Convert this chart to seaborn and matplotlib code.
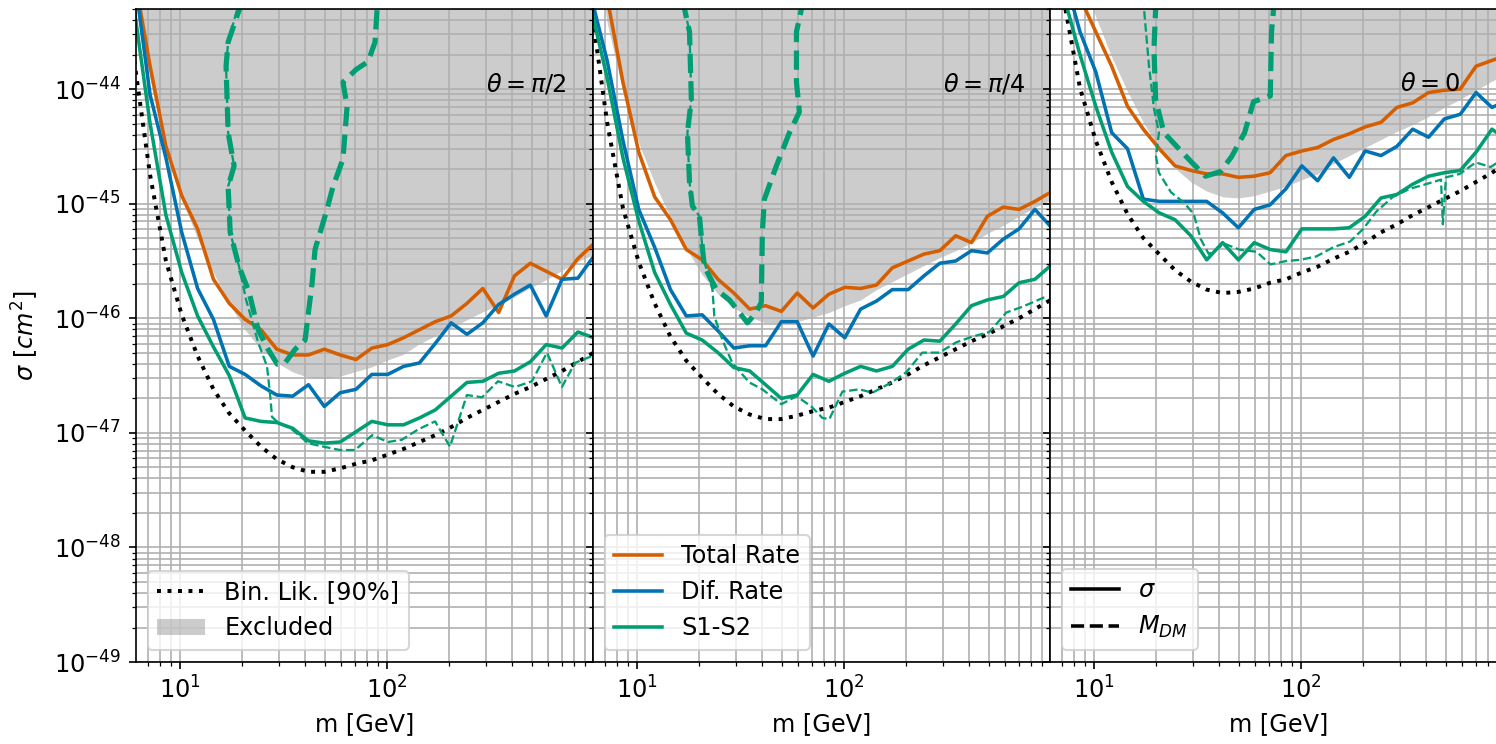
import numpy as np
import matplotlib
matplotlib.use("Agg")
import matplotlib.pyplot as plt
import seaborn as sns
from matplotlib.lines import Line2D
from matplotlib.patches import Patch
from matplotlib.ticker import FixedLocator, LogLocator, NullFormatter

plt.rcParams['font.size'] = 11.5

# ---------------------------------------------------------------------------
# Dark-matter mass grid [GeV]
# ---------------------------------------------------------------------------
mass = [6.0, 7.16, 8.54, 10.18, 12.15, 14.49, 17.28, 20.61, 24.59, 29.33,
        34.98, 41.73, 49.77, 59.37, 70.82, 84.47, 100.8, 120.2, 143.4, 171.0,
        204.0, 243.3, 290.2, 346.2, 412.9, 492.5, 587.5, 700.8, 835.9, 997.0]

# All cross sections below are log10(sigma / cm^2)

# --- theta = pi/2 ----------------------------------------------------------
excl_pi2 = [-43.0, -43.9, -44.5, -44.95, -45.3, -45.6, -45.87, -46.1, -46.27, -46.39,
            -46.47, -46.52, -46.53, -46.51, -46.47, -46.43, -46.37, -46.32, -46.23, -46.16,
            -46.09, -46.02, -45.95, -45.89, -45.82, -45.74, -45.67, -45.59, -45.51, -45.45]
binlik_pi2 = [-43.75, -44.75, -45.5, -45.97, -46.33, -46.62, -46.83, -46.98, -47.12, -47.23,
              -47.30, -47.34, -47.34, -47.31, -47.27, -47.24, -47.19, -47.14, -47.08, -47.02,
              -46.95, -46.87, -46.80, -46.73, -46.66, -46.60, -46.53, -46.46, -46.38, -46.30]
total_pi2 = [-43.0, -43.8, -44.5, -44.93, -45.22, -45.66, -45.87, -46.01, -46.10, -46.27,
             -46.32, -46.32, -46.27, -46.32, -46.36, -46.26, -46.23, -46.17, -46.10, -46.03,
             -45.98, -45.87, -45.74, -45.95, -45.63, -45.52, -45.59, -45.66, -45.48, -45.35]
dif_pi2 = [-43.0, -44.05, -44.6, -45.25, -45.74, -46.01, -46.42, -46.49, -46.59, -46.67,
           -46.68, -46.58, -46.77, -46.65, -46.62, -46.49, -46.49, -46.42, -46.39, -46.22,
           -46.04, -46.14, -46.04, -45.88, -45.79, -45.71, -45.98, -45.66, -45.65, -45.46]
s1s2_pi2 = [-43.3, -44.3, -45.1, -45.6, -45.98, -46.25, -46.5, -46.87, -46.90, -46.91,
            -46.96, -47.07, -47.09, -47.08, -46.99, -46.90, -46.93, -46.93, -46.87, -46.80,
            -46.68, -46.56, -46.55, -46.48, -46.46, -46.38, -46.23, -46.26, -46.12, -46.17]
mdm_wide_pi2_m = [1.290, 1.287, 1.232, 1.222, 1.232, 1.261, 1.232, 1.242, 1.285, 1.333,
                  1.377, 1.425, 1.469, 1.507, 1.556, 1.604, 1.618, 1.638, 1.652, 1.705,
                  1.739, 1.787, 1.807, 1.787, 1.850, 1.908, 1.942, 1.952, 1.952]
mdm_wide_pi2_s = [-43.0, -43.30, -43.59, -43.80, -44.38, -44.67, -44.85, -45.25, -45.55, -45.77,
                  -46.10, -46.27, -46.40, -46.39, -46.27, -46.19, -45.98, -45.69, -45.40, -45.08,
                  -44.85, -44.61, -44.15, -43.94, -43.83, -43.76, -43.59, -43.30, -43.0]
mdm_fine_pi2_m = [1.290, 1.232, 1.222, 1.232, 1.261, 1.232, 1.242, 1.285, 1.319, 1.377,
                  1.420, 1.435, 1.444, 1.473, 1.541, 1.618, 1.691, 1.773, 1.845, 1.928,
                  2.005, 2.072, 2.150, 2.232, 2.304, 2.386, 2.459, 2.536, 2.618, 2.700,
                  2.773, 2.845, 2.908, 2.990]
mdm_fine_pi2_s = [-43.21, -43.59, -43.80, -44.38, -44.67, -44.85, -45.25, -45.55, -45.84, -46.21,
                  -46.42, -46.67, -46.86, -46.91, -46.97, -47.09, -47.12, -47.15, -47.15, -47.02,
                  -47.08, -47.06, -46.97, -46.90, -47.12, -46.67, -46.69, -46.55, -46.60, -46.55,
                  -46.30, -46.60, -46.39, -46.33]

# --- theta = pi/4 ----------------------------------------------------------
excl_pi4 = [-42.52, -43.42, -44.02, -44.47, -44.82, -45.12, -45.39, -45.62, -45.79, -45.91,
            -45.99, -46.04, -46.05, -46.03, -45.99, -45.95, -45.89, -45.84, -45.75, -45.68,
            -45.61, -45.54, -45.47, -45.41, -45.34, -45.26, -45.19, -45.11, -45.03, -44.97]
binlik_pi4 = [-43.29, -44.29, -45.04, -45.51, -45.87, -46.16, -46.37, -46.52, -46.66, -46.77,
              -46.84, -46.88, -46.88, -46.85, -46.81, -46.78, -46.73, -46.68, -46.62, -46.56,
              -46.49, -46.41, -46.34, -46.27, -46.20, -46.14, -46.07, -46.00, -45.92, -45.84]
total_pi4 = [-42.5, -43.2, -43.94, -44.55, -44.94, -45.14, -45.40, -45.49, -45.66, -45.78,
             -45.92, -45.89, -45.94, -45.78, -45.91, -45.79, -45.73, -45.74, -45.71, -45.56,
             -45.50, -45.44, -45.41, -45.28, -45.34, -45.11, -45.03, -45.05, -44.98, -44.90]
dif_pi4 = [-43.2, -43.75, -44.45, -45.05, -45.38, -45.75, -45.98, -45.97, -46.11, -46.26,
           -46.24, -46.24, -46.03, -46.03, -46.33, -46.05, -46.17, -45.92, -45.85, -45.75,
           -45.75, -45.63, -45.52, -45.50, -45.41, -45.43, -45.31, -45.22, -45.05, -45.20]
s1s2_pi4 = [-43.3, -43.9, -44.6, -45.15, -45.6, -45.88, -46.13, -46.19, -46.30, -46.43,
            -46.46, -46.58, -46.70, -46.67, -46.49, -46.55, -46.48, -46.42, -46.46, -46.42,
            -46.27, -46.19, -46.20, -46.05, -45.89, -45.84, -45.81, -45.69, -45.66, -45.54]
mdm_wide_pi4_m = [1.229, 1.229, 1.253, 1.262, 1.243, 1.253, 1.267, 1.301, 1.316, 1.325,
                  1.383, 1.446, 1.494, 1.533, 1.576, 1.600, 1.605, 1.615, 1.673, 1.736,
                  1.784, 1.770, 1.770, 1.794, 1.794]
mdm_wide_pi4_s = [-43.1, -43.30, -43.50, -44.09, -44.38, -44.81, -45.02, -45.11, -45.40, -45.55,
                  -45.75, -45.84, -45.95, -46.04, -45.95, -45.86, -45.25, -44.96, -44.67, -44.38,
                  -44.20, -43.94, -43.50, -43.30, -43.1]
mdm_fine_pi4_m = [1.229, 1.253, 1.262, 1.243, 1.253, 1.267, 1.301, 1.316, 1.325, 1.364,
                  1.373, 1.412, 1.460, 1.542, 1.605, 1.697, 1.770, 1.842, 1.895, 1.929,
                  1.992, 2.074, 2.137, 2.229, 2.301, 2.378, 2.460, 2.542, 2.620, 2.702,
                  2.784, 2.861, 2.977]
mdm_fine_pi4_s = [-43.30, -43.50, -44.09, -44.38, -44.81, -45.02, -45.11, -45.40, -45.51, -45.75,
                  -45.98, -46.19, -46.39, -46.56, -46.62, -46.75, -46.68, -46.77, -46.87, -46.88,
                  -46.64, -46.62, -46.65, -46.56, -46.47, -46.30, -46.30, -46.21, -46.16, -46.12,
                  -45.95, -45.90, -45.81]

# --- theta = 0 -------------------------------------------------------------
excl_0 = [-41.42, -42.32, -42.92, -43.37, -43.72, -44.02, -44.29, -44.52, -44.69, -44.81,
          -44.89, -44.94, -44.95, -44.93, -44.89, -44.85, -44.79, -44.74, -44.65, -44.58,
          -44.51, -44.44, -44.37, -44.31, -44.24, -44.16, -44.09, -44.01, -43.93, -43.87]
binlik_0 = [-42.25, -43.24, -43.99, -44.45, -44.81, -45.09, -45.30, -45.44, -45.58, -45.68,
            -45.75, -45.78, -45.77, -45.74, -45.69, -45.66, -45.60, -45.55, -45.48, -45.42,
            -45.34, -45.25, -45.18, -45.10, -45.03, -44.96, -44.89, -44.81, -44.73, -44.64]
total_0 = [-42.3, -42.8, -43.2, -43.5, -43.8, -44.15, -44.35, -44.52, -44.67, -44.71,
           -44.74, -44.74, -44.77, -44.76, -44.73, -44.58, -44.54, -44.51, -44.44, -44.39,
           -44.33, -44.29, -44.16, -44.12, -44.03, -44.01, -44.00, -43.80, -43.75, -43.70]
dif_0 = [-42.5, -43.0, -43.5, -43.85, -44.38, -44.52, -44.96, -44.98, -44.98, -44.98,
         -44.98, -45.08, -45.21, -45.05, -45.01, -44.87, -44.67, -44.80, -44.60, -44.77,
         -44.54, -44.58, -44.50, -44.35, -44.42, -44.26, -44.22, -44.03, -44.16, -44.10]
s1s2_0 = [-42.6, -43.2, -43.7, -44.15, -44.55, -44.85, -44.98, -45.08, -45.14, -45.28,
          -45.49, -45.34, -45.49, -45.34, -45.40, -45.42, -45.22, -45.22, -45.22, -45.21,
          -45.11, -44.95, -44.92, -44.83, -44.76, -44.73, -44.71, -44.55, -44.35, -44.45]
mdm_wide_0_m = [1.297, 1.297, 1.289, 1.297, 1.337, 1.409, 1.472, 1.538, 1.610, 1.664,
                1.727, 1.770, 1.851, 1.857, 1.867, 1.867]
mdm_wide_0_s = [-43.1, -43.30, -43.65, -44.09, -44.38, -44.52, -44.64, -44.76, -44.72, -44.59,
                -44.38, -44.11, -44.06, -43.50, -43.30, -43.1]
mdm_fine_0_m = [1.241, 1.241, 1.265, 1.289, 1.313, 1.299, 1.313, 1.371, 1.433, 1.481,
                1.515, 1.554, 1.630, 1.700, 1.785, 1.852, 1.929, 1.997, 2.074, 2.156,
                2.237, 2.300, 2.363, 2.444, 2.526, 2.603, 2.676, 2.685, 2.700, 2.767,
                2.844, 2.916, 2.974]
mdm_fine_0_s = [-43.1, -43.30, -43.80, -44.17, -44.38, -44.59, -44.73, -44.90, -44.99, -45.09,
                -45.31, -45.44, -45.35, -45.40, -45.42, -45.53, -45.50, -45.49, -45.46, -45.38,
                -45.33, -45.22, -45.07, -44.94, -44.87, -44.83, -44.79, -45.18, -44.77, -44.74,
                -44.64, -44.68, -44.61]

panel_titles = [r'$\theta=\pi/2$', r'$\theta=\pi/4$', r'$\theta=0$']
x_major = [10.0, 100.0]
y_major = [1e-49, 1e-48, 1e-47, 1e-46, 1e-45, 1e-44]

C_TOTAL = '#d55e00'
C_DIF = '#0173b2'
C_S1S2 = '#029e73'

panels = [
    dict(excl=excl_pi2, binlik=binlik_pi2, total=total_pi2, dif=dif_pi2, s1s2=s1s2_pi2,
         wide=(mdm_wide_pi2_m, mdm_wide_pi2_s), fine=(mdm_fine_pi2_m, mdm_fine_pi2_s)),
    dict(excl=excl_pi4, binlik=binlik_pi4, total=total_pi4, dif=dif_pi4, s1s2=s1s2_pi4,
         wide=(mdm_wide_pi4_m, mdm_wide_pi4_s), fine=(mdm_fine_pi4_m, mdm_fine_pi4_s)),
    dict(excl=excl_0, binlik=binlik_0, total=total_0, dif=dif_0, s1s2=s1s2_0,
         wide=(mdm_wide_0_m, mdm_wide_0_s), fine=(mdm_fine_0_m, mdm_fine_0_s)),
]

fig, axes = plt.subplots(1, 3, figsize=(1496 / 150, 744 / 150), dpi=150, sharey=True)
fig.subplots_adjust(left=0.0907, right=1.0072, bottom=0.1102, top=0.9879, wspace=0)

m_arr = np.array(mass)

for ax, p, title in zip(axes, panels, panel_titles):
    ax.set_xscale('log')
    ax.set_yscale('log')

    ax.fill_between(m_arr, 10.0 ** np.array(p['excl']), 1e-40,
                    color='gray', alpha=0.4, lw=0)

    sns.lineplot(x=m_arr, y=10.0 ** np.array(p['binlik']), ax=ax,
                 color='black', linestyle=':', lw=1.9)
    sns.lineplot(x=m_arr, y=10.0 ** np.array(p['total']), ax=ax, color=C_TOTAL, lw=1.7)
    sns.lineplot(x=m_arr, y=10.0 ** np.array(p['dif']), ax=ax, color=C_DIF, lw=1.7)
    sns.lineplot(x=m_arr, y=10.0 ** np.array(p['s1s2']), ax=ax, color=C_S1S2, lw=1.7)

    wm, ws = p['wide']
    sns.lineplot(x=10.0 ** np.array(wm), y=10.0 ** np.array(ws), ax=ax, sort=False,
                 estimator=None, color=C_S1S2, linestyle='--', lw=2.5)
    fm, fs = p['fine']
    sns.lineplot(x=10.0 ** np.array(fm), y=10.0 ** np.array(fs), ax=ax, sort=False,
                 estimator=None, color=C_S1S2, linestyle='--', lw=1.1)

    ax.set_xlim(6.1, 986)
    ax.set_ylim(1e-49, 5e-44)
    ax.xaxis.set_major_locator(FixedLocator(x_major))
    ax.xaxis.set_minor_locator(LogLocator(base=10, subs=np.arange(2, 10), numticks=100))
    ax.xaxis.set_minor_formatter(NullFormatter())
    ax.yaxis.set_major_locator(FixedLocator(y_major))
    ax.yaxis.set_minor_locator(LogLocator(base=10, subs=np.arange(2, 10), numticks=100))
    ax.yaxis.set_minor_formatter(NullFormatter())
    ax.grid(True, which='both', color='#b0b0b0', lw=0.8)
    ax.set_xlabel('m [GeV]')
    ax.set_ylabel('')
    ax.text(300, 1.1e-44, title, va='center', ha='left')

axes[0].set_ylabel(r'$\sigma\ [cm^2]$', labelpad=6)

axes[0].legend(handles=[Line2D([], [], color='black', linestyle=':', lw=1.9),
                        Patch(facecolor='gray', alpha=0.4)],
               labels=['Bin. Lik. [90%]', 'Excluded'], loc='lower left')
axes[1].legend(handles=[Line2D([], [], color=C_TOTAL, lw=1.7),
                        Line2D([], [], color=C_DIF, lw=1.7),
                        Line2D([], [], color=C_S1S2, lw=1.7)],
               labels=['Total Rate', 'Dif. Rate', 'S1-S2'], loc='lower left')
axes[2].legend(handles=[Line2D([], [], color='black', lw=1.7),
                        Line2D([], [], color='black', linestyle='--', lw=1.7)],
               labels=[r'$\sigma$', r'$M_{DM}$'], loc='lower left')

fig.savefig('out.png', dpi=150)
